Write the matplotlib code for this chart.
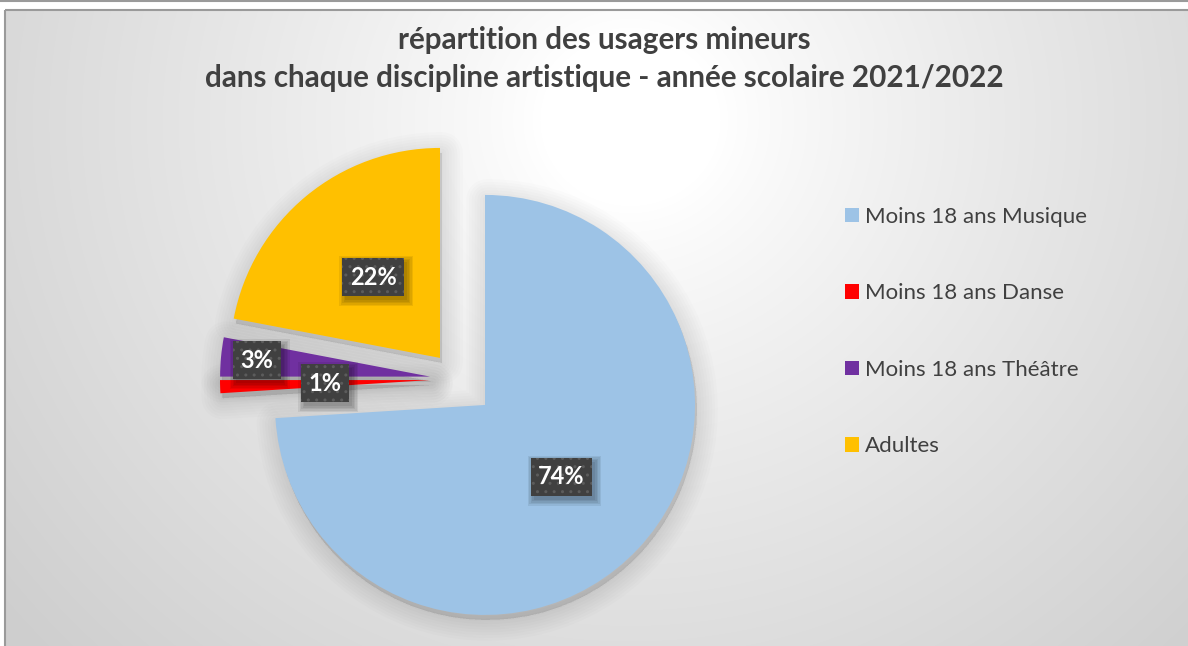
import numpy as np
import matplotlib
matplotlib.use("Agg")
import matplotlib.pyplot as plt
import matplotlib.patches as mpatches

plt.rcParams['font.family'] = ['Lato', 'DejaVu Sans']

# Data
categories = ["Moins 18 ans Musique", "Moins 18 ans Danse", "Moins 18 ans Théâtre", "Adultes"]
shares = [74, 1, 3, 22]
colors = ["#9DC3E6", "#FF0000", "#7030A0", "#FFC000"]
title_lines = ["répartition des usagers mineurs",
               "dans chaque discipline artistique - année scolaire 2021/2022"]

W, H = 1188, 646
text_color = "#404040"

fig = plt.figure(figsize=(W / 100, H / 100), dpi=100)
ax = fig.add_axes([0, 0, 1, 1])

# Background: radial grey gradient inside the chart frame
yy, xx = np.mgrid[0:H, 0:W]
dist = np.sqrt((xx - 630) ** 2 + ((yy - 120) / 0.95) ** 2)
shade = 1 - 0.19 * np.clip((dist - 90) / 720, 0, 1) ** 0.85
bg = np.dstack([shade, shade, shade])
bg[:10, :, :] = 1.0
bg[:, :5, :] = 1.0
ax.imshow(bg, extent=(0, W, H, 0), zorder=0, interpolation="bilinear")

# Pie (y axis runs downward like the image, so counterclock=True draws clockwise)
center = (457.6, 379.2)
radius = 210
explode = [37.6, 27.6, 27.6, 27.6]
wedges, texts, autotexts = ax.pie(
    shares, colors=colors, startangle=-90, counterclock=True,
    center=center, radius=radius, explode=explode,
    autopct="%1.0f%%", pctdistance=0.5,
    wedgeprops=dict(linewidth=0, zorder=3),
    textprops=dict(color="white", fontsize=17, fontweight="bold", zorder=6),
)

# soft shadow under slices
for w in wedges:
    for k in range(8):
        sh = mpatches.Wedge((w.center[0] + 2, w.center[1] + 5), w.r, w.theta1, w.theta2,
                            facecolor="black", edgecolor="black", alpha=0.012,
                            linewidth=2 + k * 4, joinstyle="round", zorder=2)
        ax.add_patch(sh)

# move the Théâtre label further out
w = wedges[2]
tm = np.deg2rad((w.theta1 + w.theta2) / 2)
autotexts[2].set_position((w.center[0] + 0.83 * w.r * np.cos(tm),
                           w.center[1] + 0.83 * w.r * np.sin(tm)))

box = dict(boxstyle="square,pad=0.32", facecolor="#404040", edgecolor="#5c5c5c",
           linewidth=0, hatch="..")
for t in autotexts:
    t.set_bbox(box)
    t.set_va("center")
    t.set_ha("center")

ax.set_xlim(0, W)
ax.set_ylim(H, 0)
ax.set_aspect("auto")
ax.axis("off")

# blurred drop shadow behind the label boxes
fig.canvas.draw()
for t in autotexts:
    bb = t.get_bbox_patch().get_window_extent()
    for k in range(5):
        g = k * 1.5
        ax.add_patch(mpatches.Rectangle((bb.x0 + 3 - g, bb.y0 - 4 - g), bb.width + 2 * g,
                                        bb.height + 2 * g, transform=None,
                                        facecolor="black", alpha=0.07, linewidth=0, zorder=4))

# Frames
ax.add_patch(mpatches.Rectangle((5, 10), W + 20, H + 20, fill=False, edgecolor="#9a9a9a",
                                linewidth=1.5, zorder=1))
ax.plot([0, W], [0.8, 0.8], color="#9a9a9a", linewidth=1.5, zorder=1)

# Title
fig.text(604 / W, 1 - 40 / H, title_lines[0], ha="center", va="center",
         fontsize=21.3, fontweight="bold", color=text_color)
fig.text(604 / W, 1 - 78 / H, title_lines[1], ha="center", va="center",
         fontsize=21.3, fontweight="bold", color=text_color)

# Legend
fig.legend(wedges, categories, loc="upper left", bbox_to_anchor=(845 / W, 1 - 207 / H),
           frameon=False, fontsize=16, labelcolor=text_color, handlelength=0.62,
           handleheight=0.62, handletextpad=0.28, labelspacing=2.54,
           borderpad=0, borderaxespad=0)

plt.savefig("out.png", dpi=100)
print("Plot saved.")
